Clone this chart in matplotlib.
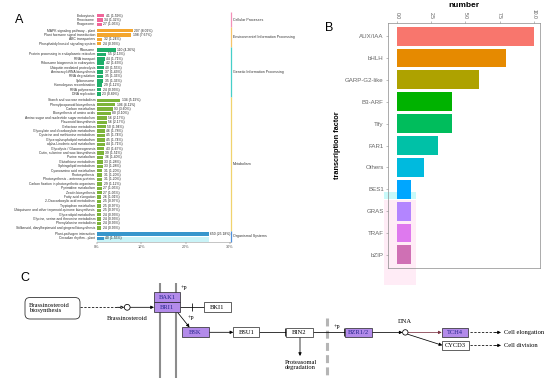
import matplotlib
matplotlib.use('Agg')
import matplotlib.pyplot as plt
from matplotlib.patches import Rectangle, FancyBboxPatch, Circle

W, H = 550, 383
def rect(l, t, r, b):
    return [l / W, 1 - b / H, (r - l) / W, (b - t) / H]

plt.rcParams['font.family'] = ['Liberation Sans', 'DejaVu Sans']

# ---------------- Panel A data ----------------
cell_terms = ["Endocytosis", "Peroxisome", "Phagosome"]
cell_counts = [41, 34, 27]
cell_pct = [1.59, 1.32, 1.05]

env_terms = ["MAPK signaling pathway - plant", "Plant hormone signal transduction",
             "ABC transporters", "Phosphatidylinositol signaling system"]
env_counts = [207, 198, 32, 24]
env_pct = [8.02, 7.67, 1.24, 0.93]

gen_terms = ["Ribosome", "Protein processing in endoplasmic reticulum", "RNA transport",
             "Ribosome biogenesis in eukaryotes", "Ubiquitin mediated proteolysis",
             "Aminoacyl-tRNA biosynthesis", "RNA degradation", "Spliceosome",
             "Homologous recombination", "RNA polymerase", "DNA replication"]
gen_counts = [110, 55, 44, 42, 40, 37, 35, 35, 29, 24, 23]
gen_pct = [4.26, 2.13, 1.71, 1.63, 1.55, 1.43, 1.36, 1.36, 1.12, 0.93, 0.89]

met_terms = ["Starch and sucrose metabolism", "Phenylpropanoid biosynthesis", "Carbon metabolism",
             "Biosynthesis of amino acids", "Amino sugar and nucleotide sugar metabolism",
             "Flavonoid biosynthesis", "Galactose metabolism", "Glyoxylate and dicarboxylate metabolism",
             "Cysteine and methionine metabolism", "Glycerophospholipid metabolism",
             "alpha-Linolenic acid metabolism", "Glycolysis / Gluconeogenesis",
             "Cutin, suberine and wax biosynthesis", "Purine metabolism", "Glutathione metabolism",
             "Sphingolipid metabolism", "Cyanoamino acid metabolism", "Photosynthesis",
             "Photosynthesis - antenna proteins", "Carbon fixation in photosynthetic organisms",
             "Pyrimidine metabolism", "Zeatin biosynthesis", "Fatty acid elongation",
             "2-Oxocarboxylic acid metabolism", "Tryptophan metabolism",
             "Ubiquinone and other terpenoid-quinone biosynthesis", "Glycerolipid metabolism",
             "Glycine, serine and threonine metabolism", "Phenylalanine metabolism",
             "Stilbenoid, diarylheptanoid and gingerol biosynthesis"]
met_counts = [134, 106, 93, 80, 56, 56, 50, 46, 45, 45, 44, 43, 39, 36, 33, 33, 31, 31, 31, 29,
              27, 27, 26, 25, 25, 25, 24, 24, 24, 24]
met_pct = [5.19, 4.11, 3.60, 3.10, 2.17, 2.17, 1.94, 1.78, 1.74, 1.74, 1.71, 1.67, 1.51, 1.40,
           1.28, 1.28, 1.20, 1.20, 1.20, 1.12, 1.05, 1.05, 1.01, 0.97, 0.97, 0.97, 0.93, 0.93,
           0.93, 0.93]

org_terms = ["Plant-pathogen interaction", "Circadian rhythm - plant"]
org_counts = [650, 40]
org_pct = [25.18, 1.55]

group_names = ["Cellular Processes", "Environmental Information Processing",
               "Genetic Information Processing", "Metabolism", "Organismal Systems"]
group_bar_colors = ["#F0669A", "#F4A62E", "#1FAE6A", "#7DB43A", "#3796CC"]
group_line_colors = ["#F490B8", "#F6C46A", "#46CFC8", "#F0D36E", "#4D8FDA"]
xticks_A = [0, 10, 20, 30]
xtick_labels_A = ["0%", "10%", "20%", "30%"]

# ---------------- Panel B data ----------------
tf_names = ["AUX/IAA", "bHLH", "GARP-G2-like", "B3-ARF", "Tify", "FAR1", "Others",
            "BES1", "GRAS", "TRAF", "bZIP"]
tf_counts = [10, 8, 6, 4, 4, 3, 2, 1, 1, 1, 1]
tf_colors = ["#F8766D", "#E68A00", "#AEA200", "#00B200", "#00BD5C", "#00C1A7",
             "#00BADE", "#00A6FF", "#B385FF", "#DE79EE", "#CF70B4"]
xticks_B = [0, 2.5, 5, 7.5, 10]
xtick_labels_B = ["0.0", "2.5", "5.0", "7.5", "10.0"]

fig = plt.figure(figsize=(5.5, 3.83), dpi=100)
fig.patch.set_facecolor('white')

# ================= Panel C (diagram) drawn first =================
axC = fig.add_axes(rect(0, 270, 550, 383))
axC.set_xlim(0, 550)
axC.set_ylim(383, 270)
axC.axis('off')
PURPLE = '#B38BEA'
NAVY = '#24248C'
SERIF = ['Liberation Serif', 'DejaVu Serif']
FS = 4.7

def box(x0, y0, x1, y1, label, fill):
    axC.add_patch(Rectangle((x0, y0), x1 - x0, y1 - y0, facecolor=fill,
                            edgecolor='#222222', lw=0.5, zorder=3))
    axC.text((x0 + x1) / 2, (y0 + y1) / 2 + 0.3, label, ha='center', va='center',
             fontsize=FS, family=SERIF, color=NAVY if fill != 'white' else 'black', zorder=4)

def arrow(x0, y0, x1, y1, color='black', fc=None):
    axC.annotate('', xy=(x1, y1), xytext=(x0, y0),
                 arrowprops=dict(arrowstyle='-|>', color=color, lw=0.55,
                                 mutation_scale=4.5, shrinkA=0, shrinkB=0,
                                 fc=fc if fc else color), zorder=2)

def line(xs, ys, **kw):
    d = dict(color='black', lw=0.55, zorder=2)
    d.update(kw)
    axC.plot(xs, ys, solid_capstyle='butt', **d)

# rounded box
axC.add_patch(FancyBboxPatch((25, 297.5), 55, 21.5, boxstyle='round,pad=0,rounding_size=5',
                             fc='white', ec='#333333', lw=0.6, zorder=3))
axC.text(29, 308.3, "Brassinosteroid\nbiosynthesis", ha='left', va='center', fontsize=FS,
         family=SERIF, linespacing=0.95, zorder=4)
line([80, 118.5], [307.3, 307.3], ls=(0, (3, 2)))
arrow(117, 307.3, 124.2, 307.3, fc='white')
axC.add_patch(Circle((127.2, 307.3), 2.9, fc='white', ec='black', lw=0.55, zorder=3))
arrow(130.1, 307.3, 154, 307.3)
axC.text(127, 318.8, "Brassinosteroid", ha='center', va='center', fontsize=FS, family=SERIF)

# membranes
line([160, 160], [283, 378], color='#8C8C8C', lw=1.5, zorder=1)
line([175.7, 175.7], [283, 378], color='#8C8C8C', lw=1.5, zorder=1)

box(154, 292, 180, 302.3, "BAK1", PURPLE)
box(154, 302.3, 180, 312.3, "BRI1", PURPLE)
axC.text(183.5, 287.5, "+p", ha='center', va='center', fontsize=4.4, family=SERIF)

line([180, 204], [307.3, 307.3])
line([192, 192], [303.3, 311.3])
box(204, 302.3, 230.7, 312.3, "BKI1", 'white')

arrow(177.5, 312.3, 189.5, 327.3)
axC.text(190.5, 317.8, "+p", ha='center', va='center', fontsize=4.4, family=SERIF)
box(181.7, 327.3, 209, 337.3, "BSK", PURPLE)
arrow(209, 332.3, 233.3, 332.3)
box(233.3, 327.3, 259.3, 337.3, "BSU1", 'white')

line([259.3, 285.5], [332.4, 332.4])
line([285.2, 285.2], [328.4, 336.4])
box(286, 327.6, 313, 337.2, "BIN2", 'white')
arrow(300, 337.2, 300, 356)
axC.text(300.5, 365, "Proteasomal\ndegradation", ha='center', va='center', fontsize=FS,
         family=SERIF, linespacing=0.95)

line([326.7, 326.7], [318, 375], color='#B5B5B5', lw=2.2, dashes=(2.6, 1.4), zorder=1)

line([313, 344.6], [332.4, 332.4])
line([344.3, 344.3], [328.4, 336.4])
axC.text(336.5, 326.8, "+p", ha='center', va='center', fontsize=4.4, family=SERIF)
box(345.3, 327.6, 371.7, 337.2, "BZR1/2", PURPLE)

arrow(371.7, 332.4, 402.6, 332.4)
axC.add_patch(Circle((405.3, 332.4), 2.7, fc='white', ec='black', lw=0.55, zorder=3))
axC.text(405, 321.8, "DNA", ha='center', va='center', fontsize=FS, family=SERIF)
arrow(408, 332.4, 441.7, 332.4, color='#7A3040')
arrow(407.6, 334.2, 442.3, 345.3)
box(441.7, 328.2, 468.3, 336.8, "TCH4", PURPLE)
box(442.3, 340.8, 469, 350, "CYCD3", 'white')

for yy, txt in [(332.4, "Cell elongation"), (345.4, "Cell division")]:
    line([470, 496], [yy, yy], ls=(0, (3, 2)))
    arrow(495, yy, 501, yy)
    axC.text(503.5, yy, txt, ha='left', va='center', fontsize=FS, family=SERIF)

# ================= Panel A =================
groups = [
    (cell_terms, cell_counts, cell_pct),
    (env_terms, env_counts, env_pct),
    (gen_terms, gen_counts, gen_pct),
    (met_terms, met_counts, met_pct),
    (org_terms, org_counts, org_pct),
]
GAP = 0.42
ypos_groups = []
y = 0.0
for gi, (terms, counts, pct) in enumerate(groups):
    if gi > 0:
        y += GAP
    ys = []
    for _ in terms:
        ys.append(y)
        y += 1
    ypos_groups.append(ys)
last_y = ypos_groups[-1][-1]

axA = fig.add_axes(rect(97, 12, 231, 242))
axA.set_facecolor('none')
axA.set_xlim(0, 30.25)
axA.set_ylim(last_y + 0.8, -0.8)

# highlight under the organismal rows
axA.add_patch(Rectangle((0, ypos_groups[4][1] - 0.45), org_pct[0], 1.25,
                        facecolor='#C9F3F7', edgecolor='none', zorder=0))

LFS = 2.45
for gi, (terms, counts, pct) in enumerate(groups):
    ys = ypos_groups[gi]
    axA.barh(ys, pct, height=0.78, color=group_bar_colors[gi], zorder=2)
    for yy, t, c, p in zip(ys, terms, counts, pct):
        axA.text(-0.45, yy, t, ha='right', va='center', fontsize=LFS, color='#333333')
        axA.text(p + 0.35, yy, f"{c} ({p:.2f}%)", ha='left', va='center', fontsize=LFS,
                 color='#222222')
    top = ys[0] - 0.5 - (GAP / 2 if gi > 0 else 0.3)
    bot = ys[-1] + 0.5 + (GAP / 2 if gi < len(groups) - 1 else 0.3)
    axA.vlines(30.25, top, bot, colors=group_line_colors[gi], lw=0.9, clip_on=False)
    axA.text(30.75, (ys[0] + ys[-1]) / 2, group_names[gi], ha='left', va='center',
             fontsize=2.6, color='#333333')

for s in ['top', 'left', 'right']:
    axA.spines[s].set_visible(False)
axA.spines['bottom'].set_color('#9A9A9A')
axA.spines['bottom'].set_linewidth(0.4)
axA.set_xticks(xticks_A)
axA.set_xticklabels(xtick_labels_A)
axA.tick_params(axis='x', labelsize=2.7, length=1.2, width=0.3, pad=0.8, colors='#555555')
axA.set_yticks([])

# ================= Panel B =================
# faint highlight boxes seen on the reference
fig.patches.append(Rectangle((384 / W, 1 - 285 / H), 32 / W, 85 / H, transform=fig.transFigure,
                             facecolor='#FFECF6', edgecolor='none', zorder=-1))
fig.patches.append(Rectangle((384 / W, 1 - 199 / H), 32 / W, 7 / H, transform=fig.transFigure,
                             facecolor='#C8FAFA', edgecolor='none', zorder=-1))

axB = fig.add_axes(rect(388, 23, 540, 268))
axB.set_facecolor('none')
axB.barh(range(len(tf_names)), tf_counts, height=0.86, color=tf_colors, zorder=2)
axB.set_xlim(-0.65, 10.45)
axB.set_ylim(len(tf_names) - 0.4, -0.6)
axB.xaxis.tick_top()
axB.xaxis.set_label_position('top')
axB.set_xticks(xticks_B)
axB.set_xticklabels(xtick_labels_B, rotation=270)
axB.set_yticks(range(len(tf_names)))
axB.set_yticklabels(tf_names)
axB.tick_params(axis='x', labelsize=3.6, length=1.5, width=0.4, pad=1.5, colors='#8A8A8A',
                labelcolor='#555555')
axB.tick_params(axis='y', labelsize=4.4, length=1.5, width=0.4, pad=1.5, colors='#8A8A8A',
                labelcolor='#666666')
for s in axB.spines.values():
    s.set_color('#8A8A8A')
    s.set_linewidth(0.5)
axB.set_xlabel("number", fontsize=6, fontweight='bold', labelpad=1.5)
axB.set_ylabel("transcription factor", fontsize=5.3, fontweight='bold', labelpad=3)

# panel letters
fig.text(19 / W, 1 - 20 / H, "A", fontsize=9, ha='center', va='center')
fig.text(329 / W, 1 - 28 / H, "B", fontsize=9, ha='center', va='center')
fig.text(25 / W, 1 - 278 / H, "C", fontsize=9, ha='center', va='center')

fig.savefig('out.png', dpi=100, facecolor='white')
